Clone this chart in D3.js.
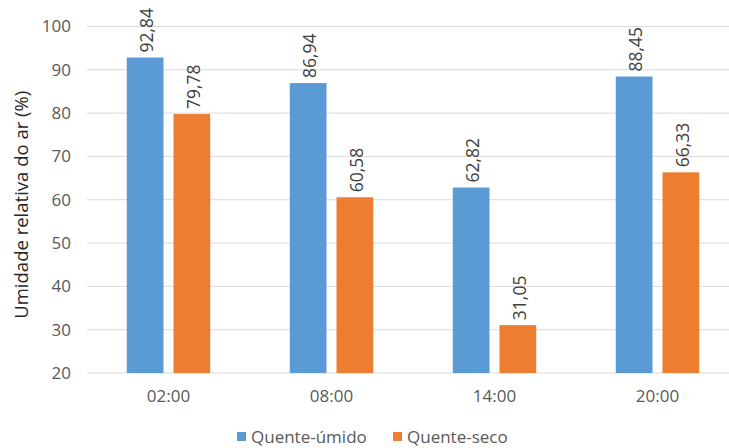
<!DOCTYPE html>
<html>
<head>
<meta charset="utf-8">
<script src="https://cdn.jsdelivr.net/npm/d3@7"></script>
<style>
  html, body { margin: 0; padding: 0; background: #fff; }
  svg { display: block; font-family: "Open Sans", "Noto Sans", sans-serif; }
</style>
</head>
<body>
<svg id="chart" width="729" height="448"></svg>
<script>
// Relative air humidity by hour, two climate conditions
const categories = ["02:00", "08:00", "14:00", "20:00"];
const seriesNames = ["Quente-úmido", "Quente-seco"];
const quenteUmido = [92.84, 86.94, 62.82, 88.45];
const quenteSeco = [79.78, 60.58, 31.05, 66.33];
const yTicks = [20, 30, 40, 50, 60, 70, 80, 90, 100];
const colors = ["#5B9BD5", "#ED7D31"];

const seriesValues = [quenteUmido, quenteSeco];
const rows = categories.map((c, i) => ({
  cat: c,
  vals: seriesNames.map((s, j) => ({ name: s, value: seriesValues[j][i], color: colors[j] }))
}));

const svg = d3.select("#chart");
const plot = { left: 87, right: 739, top: 26.5, bottom: 373 };

const y = d3.scaleLinear().domain([20, 100]).range([plot.bottom, plot.top]);
const x0 = d3.scaleBand().domain(categories).range([plot.left, plot.right]).padding(0);
const groupW = x0.bandwidth() * 0.512;
const x1 = d3.scaleBand().domain(seriesNames)
  .range([(x0.bandwidth() - groupW) / 2, (x0.bandwidth() + groupW) / 2])
  .paddingInner(0.214).paddingOuter(0);

// Gridlines
svg.append("g")
  .selectAll("line")
  .data(yTicks)
  .join("line")
  .attr("x1", plot.left).attr("x2", plot.right)
  .attr("y1", d => y(d)).attr("y2", d => y(d))
  .attr("stroke", "#D9D9D9").attr("stroke-width", 1);

// Y axis tick labels
const yAxis = d3.axisLeft(y).tickValues(yTicks).tickSize(0).tickPadding(16);
const gy = svg.append("g").attr("transform", `translate(${plot.left},0)`).call(yAxis);
gy.select(".domain").remove();
gy.selectAll("text").attr("fill", "#595959").style("font-size", "17px")
  .style("font-family", "'Open Sans', sans-serif");

// X axis labels
const xAxis = d3.axisBottom(x0).tickSize(0).tickPadding(17);
const gx = svg.append("g").attr("transform", `translate(0,${plot.bottom})`).call(xAxis);
gx.select(".domain").remove();
gx.selectAll("text").attr("fill", "#595959").style("font-size", "17px")
  .style("font-family", "'Open Sans', sans-serif");

// Bars
const groups = svg.append("g").selectAll("g")
  .data(rows)
  .join("g")
  .attr("transform", d => `translate(${x0(d.cat)},0)`);

groups.selectAll("rect")
  .data(d => d.vals)
  .join("rect")
  .attr("x", d => x1(d.name))
  .attr("width", x1.bandwidth())
  .attr("y", d => y(d.value))
  .attr("height", d => y(20) - y(d.value))
  .attr("fill", d => d.color);

// Value labels, rotated above each bar
groups.selectAll("text.val")
  .data(d => d.vals)
  .join("text")
  .attr("class", "val")
  .attr("transform", d => `translate(${x1(d.name) + x1.bandwidth() / 2 + 1},${y(d.value) - 5}) rotate(-90)`)
  .attr("text-anchor", "start")
  .attr("dominant-baseline", "central")
  .attr("fill", "#404040")
  .style("font-size", "17.5px")
  .text(d => d3.format(".2f")(d.value).replace(".", ","));

// Y axis title
svg.append("text")
  .attr("transform", `translate(20,${(plot.top + plot.bottom) / 2 + 5}) rotate(-90)`)
  .attr("text-anchor", "middle")
  .attr("dominant-baseline", "central")
  .attr("fill", "#262626")
  .style("font-size", "18.5px")
  .text("Umidade relativa do ar (%)");

// Legend
const legend = svg.append("g").attr("transform", "translate(237,436)");
const legendX = [0, 156];
seriesNames.forEach((s, i) => {
  const g = legend.append("g").attr("transform", `translate(${legendX[i]},0)`);
  g.append("rect").attr("x", 0).attr("y", -4).attr("width", 9).attr("height", 9).attr("fill", colors[i]);
  g.append("text").attr("x", 14).attr("y", 0)
    .attr("dominant-baseline", "central")
    .attr("fill", "#595959").style("font-size", "17px").text(s);
});
</script>
</body>
</html>
